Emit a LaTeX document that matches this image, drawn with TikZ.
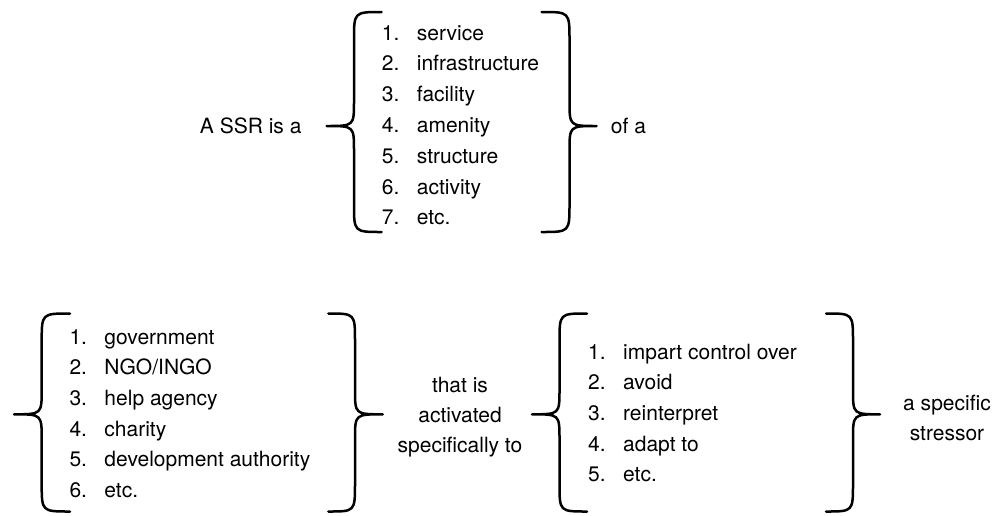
\documentclass[tikz,border=0pt]{standalone}
\usepackage{fontspec}
\setmainfont{TeX Gyre Heros}
\usepackage{tikz}
\tikzset{
	bracestroke/.style={line width=2.5pt, line cap=round, line join=round},
	listentry/.style={anchor=base west, inner sep=0pt},
	phrase/.style={anchor=base, inner sep=0pt}
}
% tip x, stem x, end x, top y, tip y, bottom y
\newcommand{\curlybrace}[6]{%
	\draw[bracestroke] (#3,#4) .. controls (#2,#4) .. (#2,#4+28) -- (#2,#5-25) .. controls (#2,#5) .. (#1,#5)
		.. controls (#2,#5) .. (#2,#5+25) -- (#2,#6-28) .. controls (#2,#6) .. (#3,#6);}
\newcommand{\entrynum}[1]{\makebox[35pt][l]{#1}}

\begin{document}
\begin{tikzpicture}[x=1pt, y=-1pt, font=\fontsize{21}{30}\selectfont]
	\useasboundingbox (0,0) rectangle (1007,515);
	\begin{scope}
		%prima riga
		\node[phrase, anchor=base east] (ssr) at (301.7,133.3) {A SSR is a};
		\curlybrace{326.7}{354}{381.7}{12}{126}{232}
		\node[listentry] (service) at (381.7,40) {\entrynum{1.}service};
		\node[listentry] (infra) at (381.7,70.8) {\entrynum{2.}infrastructure};
		\node[listentry] (facility) at (381.7,101.6) {\entrynum{3.}facility};
		\node[listentry] (amenity) at (381.7,132.4) {\entrynum{4.}amenity};
		\node[listentry] (structure) at (381.7,163.2) {\entrynum{5.}structure};
		\node[listentry] (activity) at (381.7,194) {\entrynum{6.}activity};
		\node[listentry] (etcA) at (381.7,224.8) {\entrynum{7.}etc.};
		\curlybrace{596.7}{569.5}{541.7}{12}{126}{232}
		\node[phrase, anchor=base west] (ofa) at (610.7,133.3) {of a};
		%seconda riga, chi
		\curlybrace{14}{41.7}{70}{313.5}{414.3}{511.5}
		\node[listentry] (gov) at (69.3,344) {\entrynum{1.}government};
		\node[listentry] (ngo) at (69.3,374.7) {\entrynum{2.}NGO/INGO};
		\node[listentry] (help) at (69.3,405.4) {\entrynum{3.}help agency};
		\node[listentry] (charity) at (69.3,436.1) {\entrynum{4.}charity};
		\node[listentry] (devauth) at (69.3,466.8) {\entrynum{5.}development authority};
		\node[listentry] (etcB) at (69.3,497.5) {\entrynum{6.}etc.};
		\curlybrace{382.7}{355}{328.3}{313.5}{414.3}{511.5}
		%testo centrale
		\node[phrase] (act1) at (460,392.7) {that is};
		\node[phrase] (act2) at (460,422.7) {activated};
		\node[phrase] (act3) at (460,452.7) {specifically to};
		%seconda riga, cosa
		\curlybrace{532}{559.5}{587}{313.5}{414.3}{511.5}
		\node[listentry] (control) at (588,359) {\entrynum{1.}impart control over};
		\node[listentry] (avoid) at (588,389.7) {\entrynum{2.}avoid};
		\node[listentry] (reinterp) at (588,420.4) {\entrynum{3.}reinterpret};
		\node[listentry] (adapt) at (588,451.1) {\entrynum{4.}adapt to};
		\node[listentry] (etcC) at (588,481.8) {\entrynum{5.}etc.};
		\curlybrace{880}{853}{826}{313.5}{414.3}{511.5}
		%stressore
		\node[phrase] (spec) at (947,410.3) {a specific};
		\node[phrase] (stress) at (947,440) {stressor};
	\end{scope}
\end{tikzpicture}
\end{document}
